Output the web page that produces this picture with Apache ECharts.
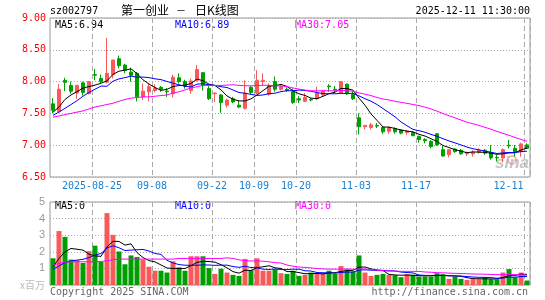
<!DOCTYPE html>
<html>
<head>
<meta charset="utf-8">
<script src="https://cdn.jsdelivr.net/npm/echarts@6/dist/echarts.min.js"></script>
<style>
  html, body { margin: 0; padding: 0; background: #fff; }
  #main { width: 545px; height: 300px; }
</style>
</head>
<body>
<div id="main"></div>
<script>
// trading days shown on the chart
const dates = [
  '2025-08-14','2025-08-15','2025-08-18','2025-08-19','2025-08-20','2025-08-21','2025-08-22',
  '2025-08-25','2025-08-26','2025-08-27','2025-08-28','2025-08-29',
  '2025-09-01','2025-09-02','2025-09-03','2025-09-04','2025-09-05',
  '2025-09-08','2025-09-09','2025-09-10','2025-09-11','2025-09-12',
  '2025-09-15','2025-09-16','2025-09-17','2025-09-18','2025-09-19',
  '2025-09-22','2025-09-23','2025-09-24','2025-09-25','2025-09-26','2025-09-29','2025-09-30',
  '2025-10-09','2025-10-10','2025-10-13','2025-10-14','2025-10-15','2025-10-16','2025-10-17',
  '2025-10-20','2025-10-21','2025-10-22','2025-10-23','2025-10-24',
  '2025-10-27','2025-10-28','2025-10-29','2025-10-30','2025-10-31',
  '2025-11-03','2025-11-04','2025-11-05','2025-11-06','2025-11-07',
  '2025-11-10','2025-11-11','2025-11-12','2025-11-13','2025-11-14',
  '2025-11-17','2025-11-18','2025-11-19','2025-11-20','2025-11-21',
  '2025-11-24','2025-11-25','2025-11-26','2025-11-27','2025-11-28',
  '2025-12-01','2025-12-02','2025-12-03','2025-12-04','2025-12-05',
  '2025-12-08','2025-12-09','2025-12-10','2025-12-11'
]
// [open, close, low, high]
const candles = [
  [7.65,7.55,7.50,7.74],[7.53,7.88,7.51,7.96],[8.02,7.99,7.85,8.06],[7.94,7.85,7.81,8.00],
  [7.82,7.94,7.73,7.95],[7.98,7.83,7.78,8.00],[7.81,8.00,7.80,8.01],[8.11,8.10,8.02,8.20],
  [8.05,8.00,7.97,8.11],[7.99,8.13,7.97,8.69],[8.11,8.34,8.05,8.34],[8.36,8.25,8.21,8.41],
  [8.26,8.18,8.13,8.28],[8.15,8.10,8.00,8.22],[8.13,7.76,7.69,8.15],[7.76,7.85,7.71,7.97],
  [7.84,7.92,7.69,7.97],[7.86,7.90,7.83,7.96],[7.91,7.88,7.84,7.93],[7.85,7.84,7.76,7.90],
  [7.81,8.07,7.75,8.11],[8.06,8.00,7.97,8.13],[8.00,7.93,7.89,8.03],[7.86,8.01,7.81,8.05],
  [8.02,8.19,8.00,8.26],[8.14,7.94,7.86,8.15],[7.89,7.73,7.71,7.93],[7.81,7.82,7.68,7.83],
  [7.79,7.67,7.51,7.80],[7.63,7.71,7.59,7.73],[7.73,7.68,7.66,7.76],[7.63,7.60,7.59,7.70],
  [7.58,7.82,7.56,8.02],[7.91,7.83,7.80,7.93],[7.82,8.02,7.80,8.18],[8.00,8.02,7.94,8.13],
  [7.80,7.94,7.78,7.97],[8.00,7.88,7.84,8.08],[7.88,7.92,7.86,7.95],[7.88,7.86,7.84,7.91],
  [7.84,7.67,7.65,7.89],[7.73,7.71,7.66,7.77],[7.69,7.75,7.68,7.82],[7.72,7.71,7.69,7.74],
  [7.73,7.82,7.71,7.92],[7.79,7.85,7.76,7.87],[7.93,7.92,7.84,7.96],[7.88,7.87,7.82,7.93],
  [7.82,8.00,7.81,8.01],[7.96,7.81,7.79,7.97],[7.80,7.73,7.71,7.84],[7.43,7.29,7.17,7.50],
  [7.29,7.31,7.25,7.32],[7.28,7.32,7.25,7.35],[7.31,7.30,7.27,7.35],[7.28,7.21,7.18,7.29],
  [7.22,7.28,7.18,7.29],[7.26,7.21,7.18,7.28],[7.24,7.19,7.17,7.25],[7.20,7.22,7.16,7.24],
  [7.20,7.15,7.14,7.22],[7.14,7.09,7.04,7.15],[7.09,7.07,7.03,7.11],[7.06,6.98,6.95,7.08],
  [7.18,7.005,6.99,7.19],[6.93,6.83,6.82,6.99],[6.85,6.93,6.81,6.94],[6.94,6.90,6.88,6.95],
  [6.92,6.865,6.85,6.94],[6.865,6.885,6.83,6.90],[6.865,6.89,6.82,6.92],[6.885,6.92,6.865,6.95],
  [6.92,6.875,6.85,6.94],[6.885,6.80,6.77,7.005],[6.81,6.80,6.745,6.85],[6.80,6.93,6.73,6.95],
  [7.00,6.99,6.95,7.08],[6.95,6.885,6.82,7.005],[6.90,7.02,6.82,7.04],[7.005,6.95,6.94,7.03]
]
// volume, millions of shares
const volumes = [
  1.61,3.25,2.90,1.53,1.49,1.33,2.04,2.37,1.39,4.33,
  3.02,2.02,1.25,1.78,1.69,1.53,1.10,0.86,0.86,0.75,
  1.43,1.06,0.86,1.73,1.73,1.73,1.02,0.67,0.98,0.75,
  0.61,0.55,1.57,0.90,1.61,0.86,0.86,0.94,0.71,0.67,
  0.86,0.55,0.61,0.75,0.71,0.71,0.86,0.67,1.14,0.94,
  0.82,1.78,0.75,0.55,0.61,0.67,0.61,0.59,0.47,0.65,
  0.61,0.51,0.51,0.51,0.71,0.65,0.37,0.51,0.37,0.31,
  0.35,0.35,0.47,0.35,0.35,0.75,0.96,0.47,0.75,0.27
]
// moving-average values before the window fills (earlier history)
const priceMa5Head = [7.52, 7.60, 7.72, 7.79]
const priceMa10Head = [7.47, 7.52, 7.58, 7.64, 7.70, 7.77, 7.83, 7.88, 7.93]
const priceMa30Head = [
  7.44, 7.46, 7.48, 7.50, 7.52, 7.54, 7.57, 7.60, 7.62, 7.64,
  7.66, 7.69, 7.72, 7.74, 7.75, 7.76, 7.76, 7.77, 7.78, 7.79,
  7.82, 7.84, 7.87, 7.90, 7.92, 7.94, 7.94, 7.94, 7.94
]
const volMa5Head = [1.1, 1.6, 2.0, 2.2]
const volMa10Head = [0.95, 1.15, 1.35, 1.45, 1.5, 1.55, 1.65, 1.8, 1.9]
const volMa30Head = [
  1.2, 1.3, 1.38, 1.4, 1.4, 1.4, 1.4, 1.4, 1.42, 1.46,
  1.52, 1.56, 1.56, 1.56, 1.56, 1.56, 1.56, 1.56, 1.56, 1.56,
  1.56, 1.6, 1.6, 1.6, 1.6, 1.6, 1.6, 1.6, 1.6
]
const dateLabelIndex = [7, 17, 27, 34, 41, 51, 61, 79]
const priceTicks = [6.5, 9, 0.5]
const volTicks = [0, 5, 1]

const RED = '#f85a5a'
const GREEN = '#009f00'
const GRID_LINE = '#aaaaaa'
const MONO = 'DejaVu Sans Mono'

function movingAvg(values, n, head) {
  return values.map((v, i) => {
    if (i < n - 1) return head[i]
    let s = 0
    for (let k = i - n + 1; k <= i; k++) s += values[k]
    return +(s / n).toFixed(3)
  })
}

const closes = candles.map(c => c[1])
const showDate = (index) => dateLabelIndex.indexOf(index) >= 0
const lastIndex = dates.length - 1

function maLine(name, data, color, xi, yi) {
  return {
    name, type: 'line', xAxisIndex: xi, yAxisIndex: yi, data,
    symbol: 'none', silent: true,
    lineStyle: { width: 1, color }
  }
}

function xAxisFor(gridIndex, withLabels) {
  return {
    type: 'category', gridIndex, data: dates, boundaryGap: true,
    axisLine: { show: false }, axisTick: { show: false },
    axisLabel: {
      show: withLabels,
      interval: (index) => showDate(index),
      formatter: (value, index) => {
        if (index === 7) return value
        // last label is pulled in so it stays inside the frame
        if (index === lastIndex) return '{e|' + value.slice(5) + '}'
        return value.slice(5)
      },
      rich: { e: { padding: [0, 31, 0, 0], color: '#1a7fd0', fontFamily: MONO, fontSize: 10 } },
      color: '#1a7fd0', fontFamily: MONO, fontSize: 10, margin: 4,
      padding: [0, 6, 0, 0]
    },
    splitLine: {
      show: true,
      interval: (index) => showDate(index),
      lineStyle: { color: GRID_LINE, type: [5, 3], width: 1 }
    }
  }
}

const chart = echarts.init(document.getElementById('main'))

function txt(x, y, text, fill, extra) {
  return {
    type: 'text', x, y, silent: true,
    style: Object.assign({ text, fill, font: '10px "DejaVu Sans Mono"', verticalAlign: 'middle' }, extra || {})
  }
}

chart.setOption({
  animation: false,
  backgroundColor: '#fff',
  grid: [
    { left: 50, right: 15, top: 18, height: 159, show: true, borderColor: '#999', borderWidth: 1, backgroundColor: 'transparent' },
    { left: 50, right: 15, top: 202, height: 83, show: true, borderColor: '#999', borderWidth: 1, backgroundColor: 'transparent' }
  ],
  xAxis: [xAxisFor(0, true), xAxisFor(1, false)],
  yAxis: [
    {
      type: 'value', gridIndex: 0, min: priceTicks[0], max: priceTicks[1], interval: priceTicks[2],
      axisLine: { show: false }, axisTick: { show: false },
      axisLabel: { color: '#ff0000', fontFamily: MONO, fontSize: 10, margin: 4, formatter: v => v.toFixed(2) },
      splitLine: { lineStyle: { color: GRID_LINE, type: [1, 2] } }
    },
    {
      type: 'value', gridIndex: 1, min: volTicks[0], max: volTicks[1], interval: volTicks[2],
      axisLine: { show: false }, axisTick: { show: false },
      axisLabel: {
        color: '#999', fontFamily: 'Liberation Sans', fontSize: 11, margin: 5,
        formatter: v => v === 0 ? '{u|x百万}' : String(v),
        rich: { u: { color: '#bbb', fontFamily: 'Noto Sans CJK SC', fontSize: 10 } }
      },
      splitLine: { lineStyle: { color: GRID_LINE, type: [1, 2] } }
    }
  ],
  series: [
    {
      name: 'K', type: 'candlestick', xAxisIndex: 0, yAxisIndex: 0, data: candles,
      barWidth: 4, silent: true,
      itemStyle: { color: RED, color0: GREEN, borderColor: RED, borderColor0: GREEN, borderWidth: 1 }
    },
    maLine('MA5', movingAvg(closes, 5, priceMa5Head), '#000000', 0, 0),
    maLine('MA10', movingAvg(closes, 10, priceMa10Head), '#0000ff', 0, 0),
    maLine('MA30', movingAvg(closes, 30, priceMa30Head), '#ff00ff', 0, 0),
    {
      name: 'VOL', type: 'bar', xAxisIndex: 1, yAxisIndex: 1, barWidth: 5, silent: true,
      data: volumes.map((v, i) => ({
        value: v,
        itemStyle: { color: candles[i][1] >= candles[i][0] ? RED : GREEN }
      }))
    },
    maLine('VMA5', movingAvg(volumes, 5, volMa5Head), '#000000', 1, 1),
    maLine('VMA10', movingAvg(volumes, 10, volMa10Head), '#0000ff', 1, 1),
    maLine('VMA30', movingAvg(volumes, 30, volMa30Head), '#ff00ff', 1, 1)
  ],
  graphic: [
    txt(50, 11, 'sz002797', '#000'),
    { type: 'text', x: 121, y: 10, silent: true, style: { text: '第一创业', fill: '#000', font: '12px "Noto Sans CJK SC"', verticalAlign: 'middle' } },
    { type: 'text', x: 176, y: 10, silent: true, style: { text: '－', fill: '#000', font: '10px "Noto Sans CJK SC"', verticalAlign: 'middle' } },
    { type: 'text', x: 195, y: 10, silent: true, style: { text: '日K线图', fill: '#000', font: '12px "Noto Sans CJK SC"', verticalAlign: 'middle' } },
    txt(530, 11, '2025-12-11 11:30:00', '#000', { align: 'right' }),
    txt(55, 25, 'MA5:6.94', '#000'),
    txt(175, 25, 'MA10:6.89', '#0000ff'),
    txt(295, 25, 'MA30:7.05', '#ff00ff'),
    txt(55, 206, 'MA5:0', '#000'),
    txt(175, 206, 'MA10:0', '#0000ff'),
    txt(295, 206, 'MA30:0', '#ff00ff'),
    txt(50, 292, 'Copyright 2025 SINA.COM', '#666'),
    txt(528, 292, 'http://finance.sina.com.cn', '#666', { align: 'right' }),
    {
      type: 'circle', silent: true, shape: { cx: 512, cy: 160, r: 4 },
      style: { fill: 'none', stroke: 'rgba(240,100,100,0.45)', lineWidth: 2 }
    },
    {
      type: 'text', x: 495, y: 163, silent: true,
      style: { text: 'sina', fill: 'rgba(160,160,160,0.6)', font: 'italic bold 17px "Liberation Sans"', verticalAlign: 'middle' }
    }
  ]
})
</script>
</body>
</html>
